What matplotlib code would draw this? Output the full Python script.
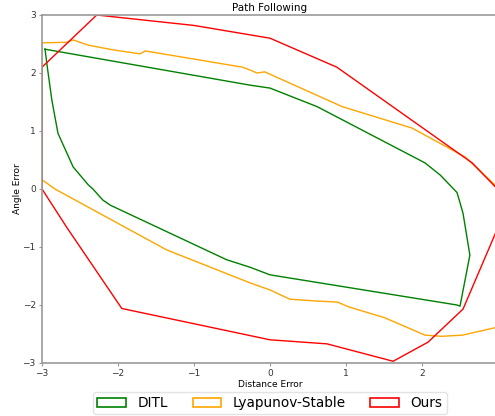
import matplotlib
matplotlib.use("Agg")
import matplotlib.pyplot as plt
from matplotlib.patches import Patch

# DITL
ditl_x = [-2.96, -0.26, 0.0, 0.62, 2.04, 2.24, 2.46, 2.49, 2.54, 2.63, 2.50, 2.46, 0.0, -0.26, -0.57,
          -2.10, -2.20, -2.33, -2.39, -2.59, -2.79, -2.87, -2.93, -2.96]
ditl_y = [2.41, 1.79, 1.74, 1.42, 0.45, 0.24, -0.06, -0.19, -0.42, -1.14, -2.02, -2.00, -1.48, -1.35, -1.22,
          -0.28, -0.19, 0.00, 0.07, 0.38, 0.96, 1.53, 2.10, 2.41]

# Lyapunov-Stable
lyap_x = [-3.0, -2.67, -2.59, -2.39, -2.07, -1.71, -1.64, -0.36, -0.26, -0.17, -0.07, 0.95, 1.87, 2.57, 2.96,
          3.0, 3.0, 2.53, 2.26, 2.04, 1.51, 1.03, 0.89, 0.59, 0.26, 0.0, -0.26, -1.36, -2.83, -3.0, -3.0]
lyap_y = [2.52, 2.53, 2.57, 2.48, 2.40, 2.33, 2.38, 2.10, 2.05, 2.00, 2.02, 1.42, 1.05, 0.55, 0.07,
          0.0, -2.38, -2.52, -2.54, -2.52, -2.22, -2.03, -1.95, -1.93, -1.90, -1.74, -1.62, -1.05, 0.0, 0.16, 2.52]

# Ours
ours_x = [-3.0, -2.28, -1.0, 0.0, 0.88, 2.66, 2.97, 3.02, 2.54, 2.08, 1.62, 0.75, 0.0, -1.95, -2.67, -3.0, -3.0]
ours_y = [2.10, 3.0, 2.82, 2.60, 2.10, 0.45, 0.03, -0.60, -2.07, -2.64, -2.97, -2.67, -2.60, -2.06, -0.67, 0.0, 2.10]

x_ticks = [-3, -2, -1, 0, 1, 2]
y_ticks = [-3, -2, -1, 0, 1, 2, 3]

W, H = 495, 416
fig = plt.figure(figsize=(W / 100, H / 100), dpi=100)
ax = fig.add_axes([42 / W, 53 / H, 456 / W, 348 / H])

ax.plot(ditl_x, ditl_y, color="green", lw=1.0)
ax.plot(lyap_x, lyap_y, color="orange", lw=1.0)
ax.plot(ours_x, ours_y, color="red", lw=1.0)

ax.set_xlim(-3, 3)
ax.set_ylim(-3, 3)
ax.set_xticks(x_ticks)
ax.set_yticks(y_ticks)
ax.tick_params(labelsize=6.5, colors="#333333", length=2.5, pad=2, color="#999999")
for s in ax.spines.values():
    s.set_color("#999999")
    s.set_linewidth(1.2)

ax.set_title("Path Following", fontsize=7.5, pad=3)
ax.set_xlabel("Distance Error", fontsize=6.5, labelpad=1)
ax.set_ylabel("Angle Error", fontsize=6.5, labelpad=0)

handles = [Patch(facecolor="white", edgecolor="green", lw=1.2, label="DITL"),
           Patch(facecolor="white", edgecolor="orange", lw=1.2, label="Lyapunov-Stable"),
           Patch(facecolor="white", edgecolor="red", lw=1.2, label="Ours")]
fig.legend(handles=handles, loc="center", bbox_to_anchor=(270 / W, 1 - 403 / H), ncol=3,
           fontsize=9.8, frameon=True, handlelength=2.1, handleheight=0.65, columnspacing=1.8,
           borderpad=0.3, handletextpad=0.85, edgecolor="#dddddd", fancybox=True)

fig.savefig("out.png", dpi=100)
